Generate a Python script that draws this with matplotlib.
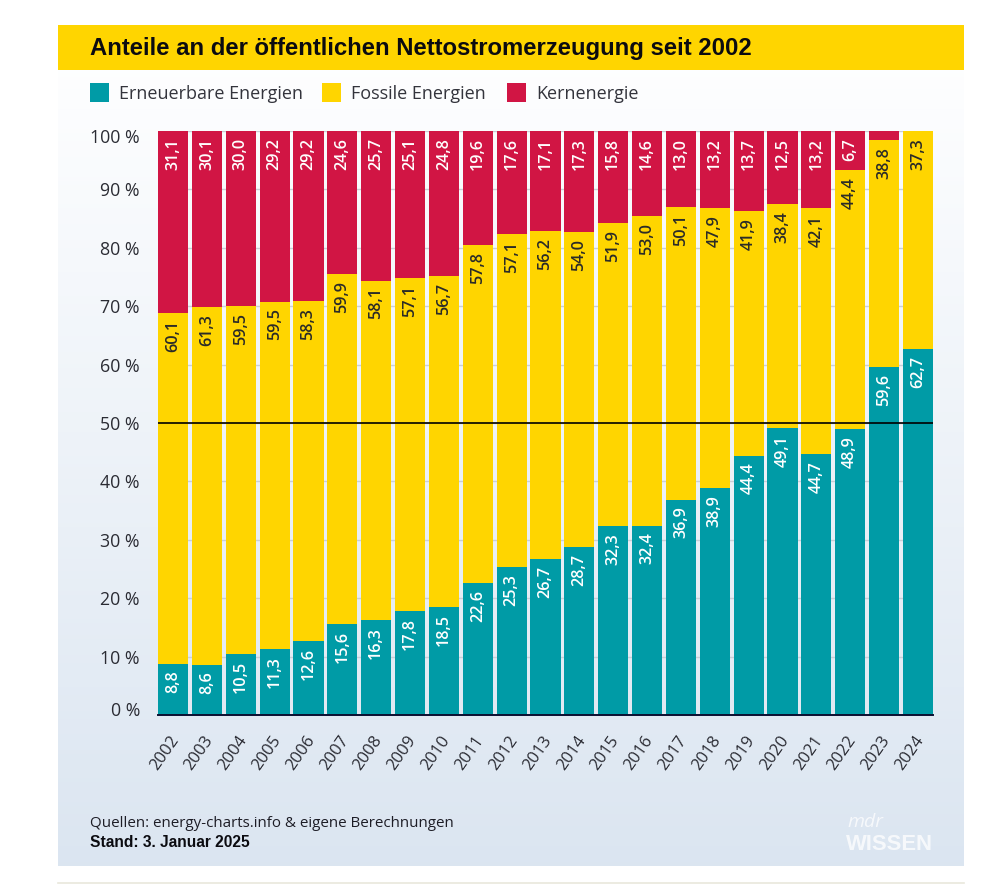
import numpy as np
import matplotlib
matplotlib.use('Agg')
import matplotlib.pyplot as plt
from matplotlib.patches import Rectangle
from matplotlib.transforms import ScaledTranslation

years = list(range(2002, 2025))
erneuerbar = [8.8, 8.6, 10.5, 11.3, 12.6, 15.6, 16.3, 17.8, 18.5, 22.6, 25.3, 26.7, 28.7,
              32.3, 32.4, 36.9, 38.9, 44.4, 49.1, 44.7, 48.9, 59.6, 62.7]
fossil = [60.1, 61.3, 59.5, 59.5, 58.3, 59.9, 58.1, 57.1, 56.7, 57.8, 57.1, 56.2, 54.0,
          51.9, 53.0, 50.1, 47.9, 41.9, 38.4, 42.1, 44.4, 38.8, 37.3]
kern = [31.1, 30.1, 30.0, 29.2, 29.2, 24.6, 25.7, 25.1, 24.8, 19.6, 17.6, 17.1, 17.3,
        15.8, 14.6, 13.0, 13.2, 13.7, 12.5, 13.2, 6.7, 1.6, 0.0]
y_ticks = [0, 10, 20, 30, 40, 50, 60, 70, 80, 90, 100]

TEAL = '#009ba6'
YELLOW = '#ffd500'
RED = '#d11544'
INK = '#2a2b28'
W, H = 1000, 888
BOLD_FONT = 'Liberation Sans'

plt.rcParams['font.family'] = ['Open Sans', 'DejaVu Sans']

fig = plt.figure(figsize=(W / 100, H / 100), dpi=100, facecolor='white')

# hintergrund in pixelkoordinaten
bg = fig.add_axes([0, 0, 1, 1])
bg.axis('off')
shade = np.linspace(0, 1, 200).reshape(-1, 1)
top_c = np.array([0.995, 0.997, 1.0])
bot_c = np.array([0.86, 0.90, 0.945])
grad = (top_c + (bot_c - top_c) * shade[..., None])
bg.imshow(grad, extent=[58, 964, 866, 70], aspect='auto', zorder=0)
bg.set_xlim(0, W)
bg.set_ylim(H, 0)
bg.add_patch(Rectangle((58, 25), 906, 45, color=YELLOW, lw=0, zorder=1))
bg.plot([58, 964], [883, 883], color='#e9e7dc', lw=1.2, zorder=1)

bg.text(90, 49, 'Anteile an der öffentlichen Nettostromerzeugung seit 2002', fontsize=17.2,
        family=BOLD_FONT, fontweight='bold', color='#0b0b10', va='center', ha='left', zorder=2)

legend_items = [('Erneuerbare Energien', TEAL, 90), ('Fossile Energien', YELLOW, 322), ('Kernenergie', RED, 507)]
for name, col, lx in legend_items:
    bg.add_patch(Rectangle((lx, 83), 19, 19, color=col, lw=0, zorder=2))
    bg.text(lx + 29, 94, name, fontsize=13, color='#33343c', va='center', ha='left', zorder=2)

bg.text(90, 823, 'Quellen: energy-charts.info & eigene Berechnungen', fontsize=10.9, color='#1d1d26',
        va='center', zorder=2)
bg.text(90, 842, 'Stand: 3. Januar 2025', fontsize=11.2, family=BOLD_FONT, fontweight='bold', color='#0b0b10',
        va='center', zorder=2)
bg.text(847, 822, 'mdr', fontsize=14, style='italic', color='white', alpha=0.75, va='center', ha='left', zorder=2)
bg.text(933, 844, 'WISSEN', fontsize=15.8, family=BOLD_FONT, fontweight='bold', color='white', alpha=0.75,
        va='center', ha='right', zorder=2)

# diagramm
ax = fig.add_axes([158 / W, 1 - 715 / H, (933 - 158) / W, (715 - 131) / H])
ax.patch.set_alpha(0)
x = np.arange(len(years))
bar_w = 0.89
e = np.array(erneuerbar)
f = np.array(fossil)
k = np.array(kern)
ax.set_axisbelow(True)
ax.grid(axis='y', color='#c9ced6', lw=1)
ax.bar(x, e, width=bar_w, color=TEAL, zorder=2)
ax.bar(x, f, width=bar_w, bottom=e, color=YELLOW, zorder=2)
ax.bar(x, k, width=bar_w, bottom=e + f, color=RED, zorder=2)
ax.axhline(50, color='black', lw=1.2, zorder=3)
ax.set_xlim(-bar_w / 2, len(years) - 1 + bar_w / 2)
ax.set_ylim(0, 100)

for i in x:
    tops = [e[i], e[i] + f[i], e[i] + f[i] + k[i]]
    vals = [e[i], f[i], k[i]]
    cols = ['white', INK, 'white']
    for top, val, col in zip(tops, vals, cols):
        # 2023 kern ist zu schmal fuer ein label, 2024 gibt es nicht
        if val < 2:
            continue
        ax.annotate(f'{val:.1f}'.replace('.', ','), (i, min(top, 100)), xytext=(0, -5), textcoords='offset points',
                    rotation=90, ha='center', va='top', fontsize=11.6, fontweight='semibold', color=col, zorder=4,
                    annotation_clip=False)

for s in ['top', 'right', 'left']:
    ax.spines[s].set_visible(False)
ax.spines['bottom'].set_color('#0b1030')
ax.spines['bottom'].set_linewidth(1.4)
ax.spines['bottom'].set_zorder(5)

ax.set_yticks(y_ticks)
ax.set_yticklabels([f'{v} %' for v in y_ticks], fontsize=12.8, color='#2a2b33')
ax.tick_params(axis='y', length=0, pad=13)
for v, lab in zip(y_ticks, ax.get_yticklabels()):
    if v == 100:
        lab.set_transform(lab.get_transform() + ScaledTranslation(0, -5 / 100, fig.dpi_scale_trans))
    if v == 0:
        lab.set_transform(lab.get_transform() + ScaledTranslation(0, 6 / 100, fig.dpi_scale_trans))

ax.set_xticks(x)
ax.set_xticklabels(years, rotation=55, ha='center', va='top', fontsize=12, color='#2a2b33')
ax.tick_params(axis='x', length=0, pad=13)
for lab in ax.get_xticklabels():
    lab.set_transform(lab.get_transform() + ScaledTranslation(-8 / 100, 0, fig.dpi_scale_trans))

fig.savefig('out.png', dpi=100)
